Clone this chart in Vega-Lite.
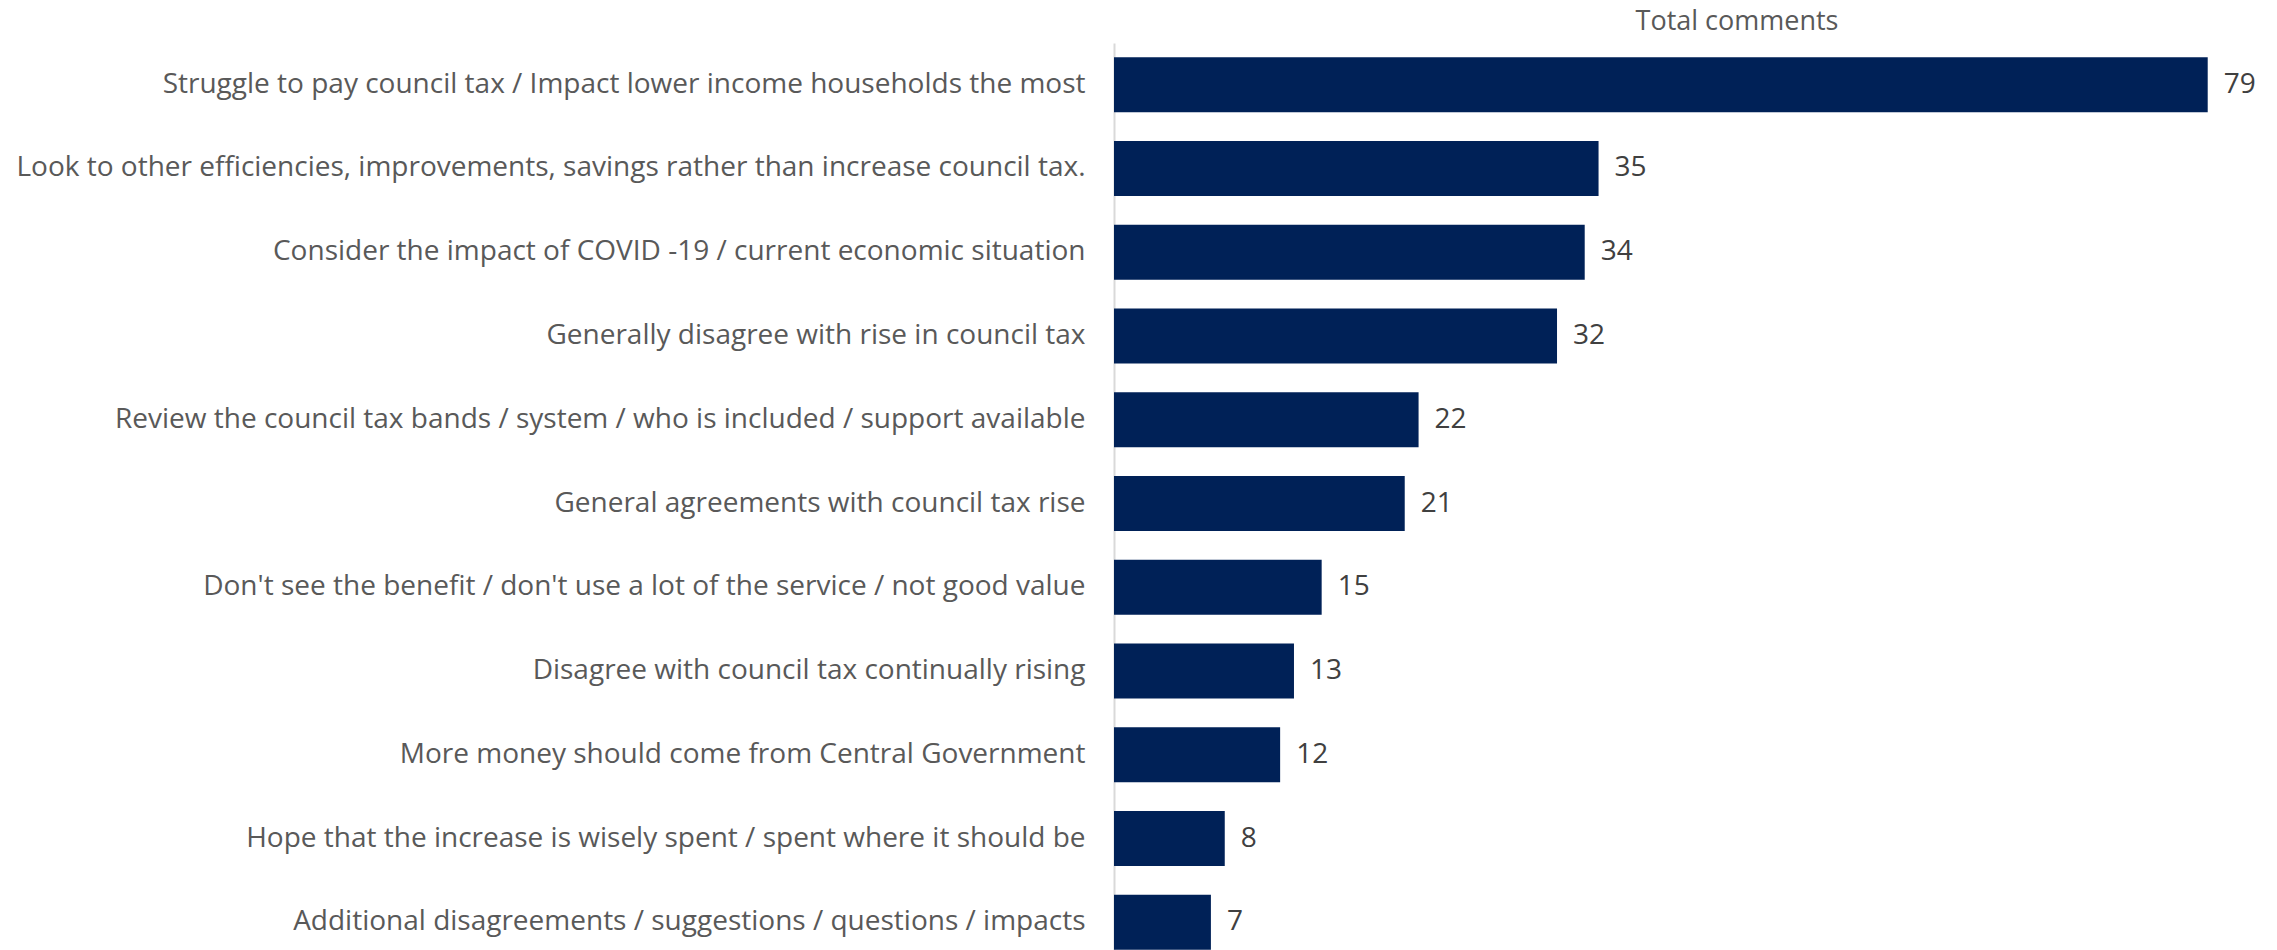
{
  "$schema": "https://vega.github.io/schema/vega-lite/v6.json",
  "width": 1246,
  "height": 921,
  "autosize": "none",
  "padding": {"left": 1114, "top": 43, "right": 0, "bottom": 0},
  "background": "white",
  "config": {"view": {"stroke": null}, "font": "Open Sans"},
  "title": {"text": "Total comments", "anchor": "middle", "fontSize": 27, "fontWeight": "normal", "color": "#595959", "font": "Open Sans", "offset": 7},
  "data": {"values": [
    {"theme": "Struggle to pay council tax / Impact lower income households the most", "count": 79},
    {"theme": "Look to other efficiencies, improvements, savings rather than increase council tax.", "count": 35},
    {"theme": "Consider the impact of COVID -19 / current economic situation", "count": 34},
    {"theme": "Generally disagree with rise in council tax", "count": 32},
    {"theme": "Review the council tax bands / system / who is included / support available", "count": 22},
    {"theme": "General agreements with council tax rise", "count": 21},
    {"theme": "Don't see the benefit / don't use a lot of the service / not good value", "count": 15},
    {"theme": "Disagree with council tax continually rising", "count": 13},
    {"theme": "More money should come from Central Government", "count": 12},
    {"theme": "Hope that the increase is wisely spent / spent where it should be", "count": 8},
    {"theme": "Additional disagreements / suggestions / questions / impacts", "count": 7}
  ]},
  "encoding": {
    "y": {"field": "theme", "type": "nominal", "sort": null,
      "scale": {"paddingInner": 0.343, "paddingOuter": 0.17},
      "axis": {"title": null, "ticks": false, "domainColor": "#d9d9d9", "domainWidth": 2, "labelFontSize": 28, "labelColor": "#595959", "labelPadding": 29, "labelLimit": 0, "labelFont": "Open Sans"}},
    "x": {"field": "count", "type": "quantitative", "scale": {"domain": [0, 90], "nice": false}, "axis": null}
  },
  "layer": [
    {"mark": {"type": "bar", "color": "#002157"}},
    {"mark": {"type": "text", "align": "left", "dx": 16, "fontSize": 28, "color": "#404040", "font": "Open Sans"}, "encoding": {"text": {"field": "count", "type": "quantitative"}}}
  ]
}
